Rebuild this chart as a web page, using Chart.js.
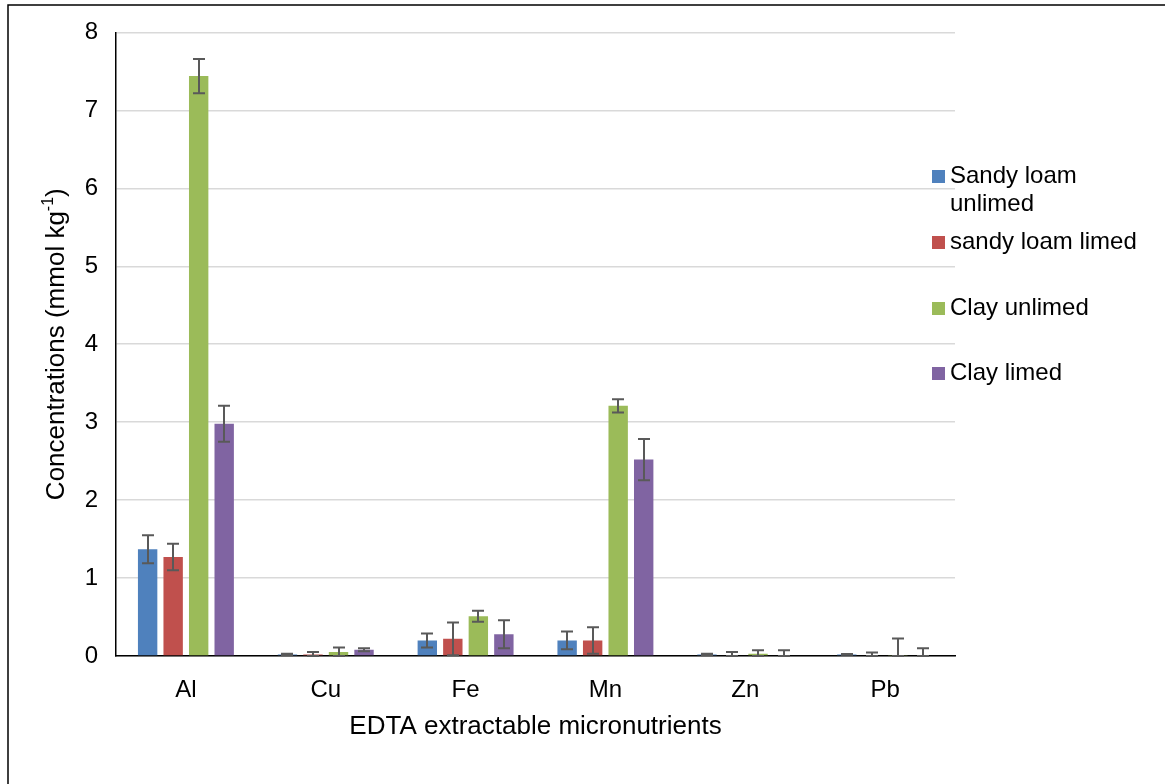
<!DOCTYPE html>
<html>
<head>
<meta charset="utf-8">
<title>EDTA extractable micronutrients</title>
<script src="https://cdn.jsdelivr.net/npm/chart.js@4.4.1/dist/chart.umd.min.js"></script>
<style>
  html, body { margin: 0; padding: 0; background: #ffffff; }
  #wrap { width: 1165px; height: 784px; }
</style>
</head>
<body>
<div id="wrap"><canvas id="chart" width="1165" height="784"></canvas></div>
<script>
// Elements on the x axis
const categories = ['Al', 'Cu', 'Fe', 'Mn', 'Zn', 'Pb'];

// Mean concentrations (mmol kg-1) and their error half-widths
const sandyLoamUnlimed    = [1.37, 0.02, 0.20, 0.20, 0.02, 0.02];
const sandyLoamUnlimedErr = [0.18, 0.01, 0.09, 0.115, 0.01, 0.005];
const sandyLoamLimed      = [1.27, 0.02, 0.22, 0.20, 0.01, 0.01];
const sandyLoamLimedErr   = [0.17, 0.03, 0.21, 0.17, 0.04, 0.035];
const clayUnlimed         = [7.44, 0.05, 0.51, 3.21, 0.03, 0.005];
const clayUnlimedErr      = [0.22, 0.06, 0.07, 0.085, 0.045, 0.22];
const clayLimed           = [2.98, 0.08, 0.28, 2.52, 0.01, 0.01];
const clayLimedErr        = [0.23, 0.02, 0.18, 0.265, 0.065, 0.09];

// Series names (the first one wraps onto two lines in the legend)
const seriesLabels = [['Sandy loam', 'unlimed'], ['sandy loam limed'], ['Clay unlimed'], ['Clay limed']];
const yTicks = [0, 1, 2, 3, 4, 5, 6, 7, 8];

const colors = ['#4F81BD', '#C0504D', '#9BBB59', '#8064A2'];
const FONT = '"Liberation Sans", Arial, sans-serif';

const seriesValues = [sandyLoamUnlimed, sandyLoamLimed, clayUnlimed, clayLimed];
const seriesErrors = [sandyLoamUnlimedErr, sandyLoamLimedErr, clayUnlimedErr, clayLimedErr];

const datasets = seriesValues.map((vals, i) => ({
  label: seriesLabels[i].join(' '),
  data: vals,
  errors: seriesErrors[i],
  backgroundColor: colors[i],
  borderWidth: 0,
  categoryPercentage: 0.73,
  barPercentage: 0.76
}));

// Error bars, axis titles, legend and outer frame
const decorations = {
  id: 'decorations',
  afterDatasetsDraw(chart) {
    const ctx = chart.ctx;
    const y = chart.scales.y;
    ctx.save();
    ctx.strokeStyle = '#595959';
    ctx.lineWidth = 2;
    chart.data.datasets.forEach((ds, di) => {
      const meta = chart.getDatasetMeta(di);
      meta.data.forEach((bar, i) => {
        const v = ds.data[i], e = ds.errors[i];
        const x = Math.round(bar.x);
        const yTop = y.getPixelForValue(v + e);
        const yBot = y.getPixelForValue(Math.max(0, v - e));
        const cap = 6;
        ctx.beginPath();
        ctx.moveTo(x, yTop); ctx.lineTo(x, yBot);
        ctx.moveTo(x - cap, yTop); ctx.lineTo(x + cap, yTop);
        ctx.moveTo(x - cap, yBot); ctx.lineTo(x + cap, yBot);
        ctx.stroke();
      });
    });
    ctx.restore();
  },
  afterDraw(chart) {
    const ctx = chart.ctx;
    const area = chart.chartArea;
    ctx.save();

    // outer frame
    ctx.strokeStyle = '#000000';
    ctx.lineWidth = 1.5;
    ctx.strokeRect(8, 5, 1200, 800);

    ctx.fillStyle = '#000000';

    // x axis title
    ctx.font = '26px ' + FONT;
    ctx.textAlign = 'center';
    ctx.textBaseline = 'middle';
    ctx.fillText('EDTA extractable micronutrients', (area.left + area.right) / 2, 727);

    // y axis title with superscript
    const main = 'Concentrations (mmol kg';
    const sup = '-1';
    const tail = ')';
    ctx.font = '26px ' + FONT;
    const wMain = ctx.measureText(main).width;
    const wTail = ctx.measureText(tail).width;
    ctx.font = '16px ' + FONT;
    const wSup = ctx.measureText(sup).width;
    const total = wMain + wSup + wTail;
    ctx.translate(57, (area.top + area.bottom) / 2);
    ctx.rotate(-Math.PI / 2);
    ctx.textAlign = 'left';
    ctx.textBaseline = 'middle';
    let cx = -total / 2;
    ctx.font = '26px ' + FONT;
    ctx.fillText(main, cx, 0);
    cx += wMain;
    ctx.font = '16px ' + FONT;
    ctx.fillText(sup, cx, -8);
    cx += wSup;
    ctx.font = '26px ' + FONT;
    ctx.fillText(tail, cx, 0);
    ctx.setTransform(1, 0, 0, 1, 0, 0);

    // legend
    const rows = [176, 242, 308, 373];
    ctx.font = '24px ' + FONT;
    ctx.textAlign = 'left';
    ctx.textBaseline = 'middle';
    seriesLabels.forEach((lines, i) => {
      const yy = rows[i];
      ctx.fillStyle = colors[i];
      ctx.fillRect(932, yy - 6, 13, 13);
      ctx.fillStyle = '#000000';
      lines.forEach((t, k) => ctx.fillText(t, 950, yy + k * 28));
    });
    ctx.restore();
  }
};

new Chart(document.getElementById('chart'), {
  type: 'bar',
  data: { labels: categories, datasets },
  options: {
    responsive: false,
    animation: false,
    devicePixelRatio: 1,
    layout: { padding: { top: 29, right: 210, bottom: 0, left: 0 } },
    plugins: { legend: { display: false }, tooltip: { enabled: false } },
    scales: {
      x: {
        grid: { display: false, drawTicks: false },
        border: { display: true, color: '#000000', width: 1.5 },
        ticks: { color: '#000000', font: { family: FONT, size: 24 }, padding: 20 },
        afterFit(scale) { scale.height = 128; }
      },
      y: {
        min: 0,
        max: 8,
        afterBuildTicks(scale) { scale.ticks = yTicks.map(v => ({ value: v })); },
        grid: { color: '#d9d9d9', lineWidth: 1.5, drawTicks: false },
        border: { display: true, color: '#000000', width: 1.5 },
        ticks: { color: '#000000', font: { family: FONT, size: 24 }, padding: 18 },
        afterFit(scale) { scale.width = 116; }
      }
    }
  },
  plugins: [decorations]
});
</script>
</body>
</html>
